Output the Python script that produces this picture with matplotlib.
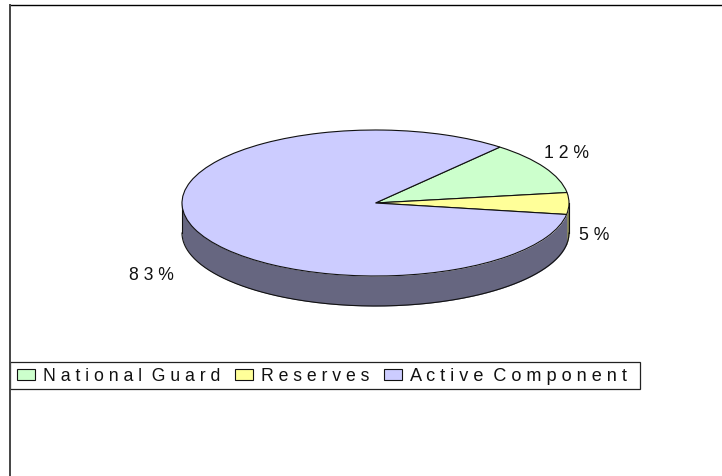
import numpy as np
import matplotlib
matplotlib.use("Agg")
import matplotlib.pyplot as plt

categories = ['National Guard', 'Reserves', 'Active Component']
values = [11.6, 4.8, 83.6]
pct_labels = ['12%', '5%', '83%']
colors = ['#CCFFCC', '#FFFF99', '#CCCCFF']
side_colors = ['#668066', '#808050', '#666680']

plt.rcParams['font.family'] = ['Liberation Sans', 'DejaVu Sans']

W, H = 722, 476
cx, cy, rx, ry, depth = 375.5, 203, 193.5, 73, 30
start = 50


def spaced(s):
    # the reference text is letter spaced
    return '  '.join(' '.join(w) for w in s.split(' '))


fig = plt.figure(figsize=(W / 100, H / 100), dpi=100)
ax = fig.add_axes([0, 0, 1, 1])
wedges, _ = ax.pie(values, colors=colors, startangle=start, counterclock=False,
                   wedgeprops={'edgecolor': '#111111', 'linewidth': 0.8, 'zorder': 3})
ax.set_aspect('auto')
ax.set_xlim(-cx / rx, (W - cx) / rx)
ax.set_ylim((cy - H) / ry, cy / ry)
d = depth / ry

# side wall under the front half of the ellipse
a = start
for v, sc in zip(values, side_colors):
    a2 = a - v * 3.6
    lo, hi = max(a2, -180), min(a, 0)
    if hi > lo:
        t = np.radians(np.linspace(lo, hi, 200))
        ax.fill_between(np.cos(t), np.sin(t) - d, np.sin(t), color=sc, lw=0, zorder=1)
        ax.plot(np.cos(t), np.sin(t) - d, color='#111111', lw=0.8, zorder=2)
    a = a2
for x in [-1, 1]:
    ax.plot([x, x], [0, -d], color='#111111', lw=0.8, zorder=2)

# percent labels, positions in figure pixels
label_pos = [(567, 154), (594, 236), (151, 276)]
for s, (px, py) in zip(pct_labels, label_pos):
    ax.text(px / W, 1 - py / H, spaced(s), transform=ax.transAxes, fontsize=12.7,
            ha='center', va='center', color='#111111')

# legend box drawn by hand so it gets the exact size
ax.add_patch(plt.Rectangle((10 / W, 1 - 389 / H), 630 / W, 27 / H, transform=ax.transAxes,
                           fc='white', ec='#222222', lw=0.9, zorder=4))
leg = ax.legend(wedges, [spaced(c) for c in categories], ncol=3, loc='center left',
                bbox_to_anchor=(10 / W, 1 - 376.5 / H), bbox_transform=ax.transAxes,
                fontsize=12.7, frameon=False, borderaxespad=0, handlelength=1.0,
                handleheight=0.6, handletextpad=0.45, columnspacing=0.85,
                borderpad=0.4, labelcolor='#111111')
leg.set_zorder(5)
leg.get_texts()[2].set_fontsize(13.1)

ax.axis('off')
# chart area border: only top and left are in the picture
fig.add_artist(plt.Line2D([10 / W, 1], [1 - 5 / H, 1 - 5 / H], color='black', lw=1))
fig.add_artist(plt.Line2D([10 / W, 10 / W], [0, 1 - 5 / H], color='#444444', lw=1.4))

fig.savefig('out.png', dpi=100)
